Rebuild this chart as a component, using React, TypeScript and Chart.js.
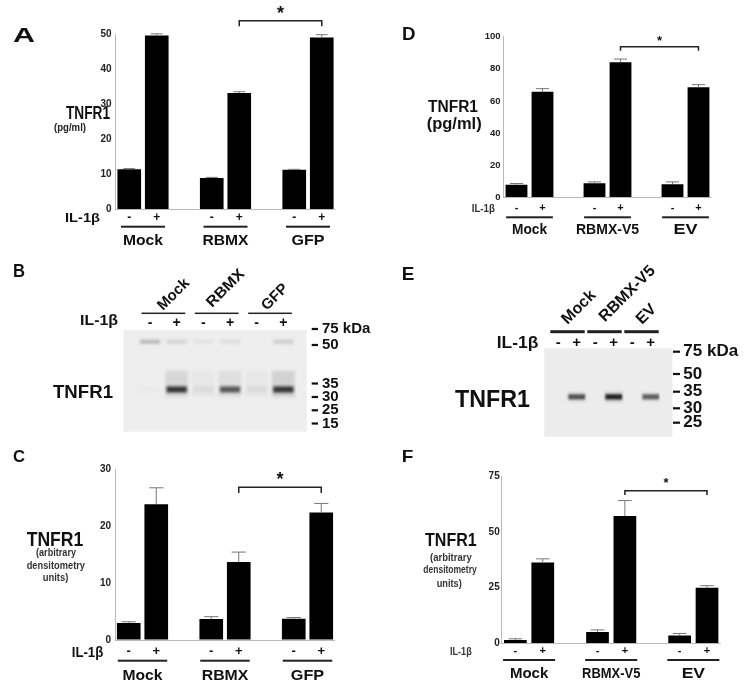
import React, { useEffect, useRef } from 'react';
import { Chart, registerables } from 'chart.js';

Chart.register(...registerables);

const FONT = '"Liberation Sans", Arial, Helvetica, sans-serif';

// ---------------- data ----------------
const rbmxGroups = ['Mock', 'RBMX', 'GFP'];
const v5Groups = ['Mock', 'RBMX-V5', 'EV'];
const il1bLevels = ['-', '+'];

// Panel A: TNFR1 ELISA (pg/ml), RBMX
const elisaRbmxValues = [11.5, 49.6, 9.0, 33.2, 11.3, 49.0];
const elisaRbmxErrors = [0.15, 0.45, 0.15, 0.35, 0.15, 0.8];
const elisaRbmxMax = 50;
const elisaRbmxStep = 10;

// Panel C: densitometry, RBMX
const densRbmxValues = [3.0, 23.85, 3.7, 13.7, 3.75, 22.4];
const densRbmxErrors = [0.2, 2.9, 0.4, 1.75, 0.2, 1.6];
const densRbmxMax = 30;
const densRbmxStep = 10;

// Panel D: TNFR1 ELISA (pg/ml), RBMX-V5
const elisaV5Values = [7.9, 65.8, 8.9, 84.1, 8.3, 68.5];
const elisaV5Errors = [0.8, 1.9, 0.8, 2.0, 1.4, 1.7];
const elisaV5Max = 100;
const elisaV5Step = 20;

// Panel F: densitometry, RBMX-V5
const densV5Values = [1.6, 36.3, 5.2, 57.1, 3.6, 25.0];
const densV5Errors = [0.5, 1.6, 0.9, 6.9, 0.9, 0.9];
const densV5Max = 75;
const densV5Step = 25;

// Western blots: band intensity per lane (0..1)
const blotLanes = ['-', '+', '-', '+', '-', '+'];
const blotRbmxMain = [0.02, 0.88, 0.06, 0.7, 0.06, 0.88];
const blotRbmxHalo = [0.0, 0.1, 0.03, 0.07, 0.03, 0.13];
const blotRbmxHigh = [0.26, 0.12, 0.06, 0.08, 0.0, 0.16];
const blotV5Main = [0.0, 0.72, 0.0, 0.97, 0.0, 0.66];
const blotV5Halo = [0.0, 0.08, 0.0, 0.15, 0.0, 0.06];
const markerLabelsRbmx = ['75 kDa', '50', '35', '30', '25', '15'];
const markerLabelsV5 = ['75 kDa', '50', '35', '30', '25'];

// ---------------- helpers ----------------
function toSlots(vals: any[], nGroups: number) {
  const out: any[] = [];
  for (let g = 0; g < nGroups; g++) {
    out.push(vals[2 * g], vals[2 * g + 1]);
    if (g < nGroups - 1) out.push(null);
  }
  return out;
}

function drawText(ctx: CanvasRenderingContext2D, t: any, ox: number, oy: number) {
  ctx.save();
  ctx.font = `${t.bold === false ? '' : 'bold '}${t.size}px ${FONT}`;
  ctx.fillStyle = t.color || '#111';
  ctx.textBaseline = t.base || 'alphabetic';
  ctx.textAlign = 'left';
  const nat = ctx.measureText(t.text).width;
  const sx = t.w ? t.w / nat : 1;
  ctx.translate(t.x - ox, t.y - oy);
  if (t.rot) ctx.rotate((t.rot * Math.PI) / 180);
  ctx.scale(sx, 1);
  const a = t.align || 'left';
  const dx = a === 'left' ? 0 : a === 'center' ? -nat / 2 : -nat;
  ctx.fillText(t.text, dx, 0);
  ctx.restore();
}

// ---------------- bar panels ----------------
function BarPanel({ spec }: { spec: any }) {
  const ref = useRef<HTMLCanvasElement>(null);
  useEffect(() => {
    const s = spec;
    const box = s.box;
    const area = s.area;
    const n = s.groups.length;
    const slotValues = toSlots(s.values, n);
    const slotErrors = toSlots(s.errors, n);
    const slotLabels = toSlots(s.groups.flatMap(() => il1bLevels), n).map((v: any) => v ?? '');
    const axisColor = '#b9b9b9';

    const barX = (chart: any, k: number) => chart.scales.x.getPixelForValue(k + Math.floor(k / 2));

    const plugin = {
      id: 'panelAnnot',
      afterDatasetsDraw(chart: any) {
        const ctx = chart.ctx;
        const y = chart.scales.y;
        const meta = chart.getDatasetMeta(0);
        ctx.save();
        ctx.strokeStyle = '#777';
        ctx.lineWidth = 1;
        meta.data.forEach((el: any, i: number) => {
          const v = slotValues[i];
          const e = slotErrors[i];
          if (v == null || e == null) return;
          const top = y.getPixelForValue(v + e);
          const half = (el.width * s.errCap) / 2;
          ctx.beginPath();
          ctx.moveTo(el.x, el.y);
          ctx.lineTo(el.x, top);
          ctx.moveTo(el.x - half, top);
          ctx.lineTo(el.x + half, top);
          ctx.stroke();
        });
        ctx.restore();
      },
      afterDraw(chart: any) {
        const ctx = chart.ctx;
        const ox = box.left;
        const oy = box.top;
        s.texts.forEach((t: any) => drawText(ctx, t, ox, oy));
        drawText(ctx, { text: 'IL-1β', ...s.il }, ox, oy);
        const slotW = barX(chart, 1) - barX(chart, 0);
        for (let k = 0; k < s.values.length; k++) {
          drawText(
            ctx,
            { text: il1bLevels[k % 2], x: barX(chart, k) + ox, y: s.pm.y, size: s.pm.size, align: 'center', base: 'middle' },
            ox,
            oy
          );
        }
        ctx.save();
        ctx.fillStyle = '#222';
        for (let g = 0; g < n; g++) {
          const x0 = barX(chart, 2 * g) - s.underline.ext * slotW;
          const x1 = barX(chart, 2 * g + 1) + s.underline.ext * slotW;
          ctx.fillRect(x0, s.underline.y - oy - s.underline.lw / 2, x1 - x0, s.underline.lw);
        }
        ctx.restore();
        for (let g = 0; g < n; g++) {
          const cx = (barX(chart, 2 * g) + barX(chart, 2 * g + 1)) / 2;
          drawText(
            ctx,
            { text: s.groups[g], x: cx + ox, y: s.groupLabel.y, size: s.groupLabel.size, w: s.groupLabel.widths[g], align: 'center' },
            ox,
            oy
          );
        }
        const b = s.bracket;
        const bx0 = barX(chart, b.from);
        const bx1 = barX(chart, b.to);
        ctx.save();
        ctx.strokeStyle = '#222';
        ctx.lineWidth = b.lw;
        ctx.beginPath();
        ctx.moveTo(bx0, b.y - oy + b.drop);
        ctx.lineTo(bx0, b.y - oy);
        ctx.lineTo(bx1, b.y - oy);
        ctx.lineTo(bx1, b.y - oy + b.drop);
        ctx.stroke();
        ctx.restore();
        drawText(ctx, { text: '*', x: (bx0 + bx1) / 2 + ox, y: b.starY, size: b.starSize, align: 'center' }, ox, oy);
      },
    };

    const chart = new Chart(ref.current as HTMLCanvasElement, {
      type: 'bar',
      data: {
        labels: slotLabels,
        datasets: [
          {
            data: slotValues,
            backgroundColor: '#000',
            borderWidth: 0,
            barPercentage: s.barPct,
            categoryPercentage: 1,
          },
        ],
      },
      options: {
        animation: false,
        responsive: false,
        maintainAspectRatio: false,
        layout: {
          padding: {
            left: 0,
            top: area.top - box.top,
            right: box.left + box.width - area.right,
            bottom: box.top + box.height - area.bottom,
          },
        },
        plugins: { legend: { display: false }, tooltip: { enabled: false } },
        scales: {
          x: { display: false, offset: true },
          y: {
            min: 0,
            max: s.max,
            ticks: {
              stepSize: s.step,
              padding: s.tickPad,
              color: '#222',
              font: { family: FONT, size: s.tickSize, weight: 'bold' },
            },
            grid: {
              drawTicks: false,
              lineWidth: 1,
              color: (c: any) => (c.tick && c.tick.value === 0 ? axisColor : 'rgba(0,0,0,0)'),
            },
            border: { display: true, color: axisColor, width: 1 },
            afterFit: (sc: any) => {
              sc.width = area.left - box.left;
            },
          },
        },
      },
      plugins: [plugin],
    } as any);
    return () => chart.destroy();
  }, [spec]);
  return (
    <canvas
      ref={ref}
      width={spec.box.width}
      height={spec.box.height}
      style={{ position: 'absolute', left: spec.box.left, top: spec.box.top, width: spec.box.width, height: spec.box.height }}
    />
  );
}

// ---------------- blot panels ----------------
function BlotPanel({ spec }: { spec: any }) {
  const ref = useRef<HTMLCanvasElement>(null);
  useEffect(() => {
    const s = spec;
    const box = s.box;
    const area = s.area;
    const plugin = {
      id: 'blotAnnot',
      beforeDatasetsDraw(chart: any) {
        const ctx = chart.ctx;
        const g = s.gel;
        ctx.fillStyle = g.color;
        ctx.fillRect(g.left - box.left, g.top - box.top, g.right - g.left, g.bottom - g.top);
        ctx.save();
        ctx.filter = `blur(${s.blur}px)`;
      },
      afterDatasetsDraw(chart: any) {
        chart.ctx.restore();
      },
      afterDraw(chart: any) {
        const ctx = chart.ctx;
        const ox = box.left;
        const oy = box.top;
        const lx = (i: number) => chart.scales.x.getPixelForValue(i);
        const laneW = lx(1) - lx(0);
        s.texts.forEach((t: any) => drawText(ctx, t, ox, oy));
        drawText(ctx, { text: 'IL-1β', ...s.il }, ox, oy);
        blotLanes.forEach((l, i) =>
          drawText(ctx, { text: l, x: lx(i) + ox, y: s.pm.y, size: s.pm.size, align: 'center', base: 'middle' }, ox, oy)
        );
        ctx.save();
        ctx.fillStyle = '#222';
        for (let g = 0; g < s.groups.length; g++) {
          const x0 = lx(2 * g) - s.underline.ext * laneW;
          const x1 = lx(2 * g + 1) + s.underline.ext * laneW;
          ctx.fillRect(x0, s.underline.y - oy - s.underline.lw / 2, x1 - x0, s.underline.lw);
        }
        ctx.restore();
        s.groups.forEach((gname: string, g: number) => {
          const r = s.rotLabels[g];
          drawText(ctx, { text: gname, x: r.x, y: r.y, size: s.rotSize, rot: s.rot, w: r.w }, ox, oy);
        });
        const m = s.markers;
        s.markerLabels.forEach((lab: string, i: number) => {
          const y = m.ys[i];
          ctx.fillStyle = '#111';
          ctx.fillRect(m.dashX0 - ox, y - oy - 1.1, m.dashX1 - m.dashX0, 2.2);
          drawText(ctx, { text: lab, x: m.textX, y, size: m.size, base: 'middle' }, ox, oy);
        });
      },
    };
    const chart = new Chart(ref.current as HTMLCanvasElement, {
      type: 'bar',
      data: {
        labels: blotLanes,
        datasets: s.bands.map((b: any) => ({
          data: b.values.map(() => [b.lo, b.hi]),
          backgroundColor: b.values.map((v: number) => `rgba(28,28,28,${v})`),
          borderWidth: 0,
          barPercentage: b.pct,
          categoryPercentage: 1,
          grouped: false,
        })),
      },
      options: {
        animation: false,
        responsive: false,
        maintainAspectRatio: false,
        layout: {
          padding: {
            left: area.left - box.left,
            top: area.top - box.top,
            right: box.left + box.width - area.right,
            bottom: box.top + box.height - area.bottom,
          },
        },
        plugins: { legend: { display: false }, tooltip: { enabled: false } },
        scales: {
          x: { display: false, offset: true },
          y: { display: false, min: 0, max: 100, reverse: true },
        },
      },
      plugins: [plugin],
    } as any);
    return () => chart.destroy();
  }, [spec]);
  return (
    <canvas
      ref={ref}
      width={spec.box.width}
      height={spec.box.height}
      style={{ position: 'absolute', left: spec.box.left, top: spec.box.top, width: spec.box.width, height: spec.box.height }}
    />
  );
}

// ---------------- layout specs ----------------
const specA = {
  box: { left: 0, top: 0, width: 375, height: 250 },
  area: { left: 115.5, top: 34, right: 335.5, bottom: 209.5 },
  values: elisaRbmxValues,
  errors: elisaRbmxErrors,
  groups: rbmxGroups,
  max: elisaRbmxMax,
  step: elisaRbmxStep,
  barPct: 0.86,
  tickSize: 10,
  tickPad: 4,
  errCap: 0.5,
  texts: [
    { text: 'A', x: 13, y: 42, size: 20, w: 22 },
    { text: 'TNFR1', x: 66, y: 118.5, size: 18, w: 44 },
    { text: '(pg/ml)', x: 54, y: 130.5, size: 10, w: 32, color: '#222' },
  ],
  il: { x: 65, y: 222, size: 13, w: 35 },
  pm: { y: 217.7, size: 12 },
  underline: { y: 226.7, ext: 0.3, lw: 2 },
  groupLabel: { y: 245, size: 14, widths: [40, 46, 33] },
  bracket: { y: 20.7, drop: 5.5, from: 3, to: 5, starY: 19, starSize: 18, lw: 1.5 },
};

const specC = {
  box: { left: 0, top: 440, width: 375, height: 249 },
  area: { left: 115, top: 469.3, right: 335, bottom: 640 },
  values: densRbmxValues,
  errors: densRbmxErrors,
  groups: rbmxGroups,
  max: densRbmxMax,
  step: densRbmxStep,
  barPct: 0.86,
  tickSize: 10,
  tickPad: 4,
  errCap: 0.6,
  texts: [
    { text: 'C', x: 13, y: 461.7, size: 17, w: 12 },
    { text: 'TNFR1', x: 26.7, y: 546, size: 21, w: 56.6 },
    { text: '(arbitrary', x: 36, y: 556, size: 10.5, w: 40, color: '#333' },
    { text: 'densitometry', x: 26.7, y: 568.5, size: 10.5, w: 58.3, color: '#333' },
    { text: 'units)', x: 42.7, y: 580.5, size: 10.5, w: 25.6, color: '#333' },
  ],
  il: { x: 71.7, y: 656.5, size: 14, w: 31.6 },
  pm: { y: 651.7, size: 13 },
  underline: { y: 660.7, ext: 0.4, lw: 2 },
  groupLabel: { y: 680, size: 15, widths: [40, 46.6, 33.3] },
  bracket: { y: 487.3, drop: 5.7, from: 3, to: 5, starY: 484.6, starSize: 18, lw: 1.5 },
};

const specD = {
  box: { left: 375, top: 0, width: 375, height: 250 },
  area: { left: 503.5, top: 36.7, right: 711.5, bottom: 197.5 },
  values: elisaV5Values,
  errors: elisaV5Errors,
  groups: v5Groups,
  max: elisaV5Max,
  step: elisaV5Step,
  barPct: 0.84,
  tickSize: 9.5,
  tickPad: 3,
  errCap: 0.6,
  texts: [
    { text: 'D', x: 402, y: 40, size: 18, w: 13.5 },
    { text: 'TNFR1', x: 428, y: 111.7, size: 16, w: 50 },
    { text: '(pg/ml)', x: 426.7, y: 129, size: 16, w: 55 },
  ],
  il: { x: 471.7, y: 211.5, size: 10, w: 23.3, color: '#333' },
  pm: { y: 208, size: 11 },
  underline: { y: 217.3, ext: 0.4, lw: 2 },
  groupLabel: { y: 234, size: 14, widths: [35, 63, 24] },
  bracket: { y: 46.7, drop: 4, from: 3, to: 5, starY: 45.3, starSize: 13, lw: 1.5 },
};

const specF = {
  box: { left: 375, top: 440, width: 375, height: 249 },
  area: { left: 501.7, top: 476, right: 720.7, bottom: 643.5 },
  values: densV5Values,
  errors: densV5Errors,
  groups: v5Groups,
  max: densV5Max,
  step: densV5Step,
  barPct: 0.83,
  tickSize: 10,
  tickPad: 2,
  errCap: 0.6,
  texts: [
    { text: 'F', x: 401.7, y: 461.7, size: 17, w: 11.6 },
    { text: 'TNFR1', x: 425, y: 546, size: 18, w: 51.7 },
    { text: '(arbitrary', x: 430, y: 560.7, size: 10.5, w: 41.7, color: '#333' },
    { text: 'densitometry', x: 423.3, y: 573.3, size: 10.5, w: 53.4, color: '#333' },
    { text: 'units)', x: 436.7, y: 586.7, size: 10.5, w: 25, color: '#333' },
  ],
  il: { x: 450, y: 654.5, size: 10, w: 21.7, color: '#333' },
  pm: { y: 650.7, size: 11 },
  underline: { y: 660, ext: 0.45, lw: 2 },
  groupLabel: { y: 678.3, size: 15, widths: [38.4, 58.3, 23.3] },
  bracket: { y: 490.7, drop: 4.3, from: 3, to: 5, starY: 486.6, starSize: 13, lw: 1.5 },
};

const specB = {
  box: { left: 0, top: 250, width: 375, height: 190 },
  area: { left: 136.7, top: 330, right: 296.7, bottom: 431.7 },
  gel: { left: 123.3, top: 330, right: 306.7, bottom: 431.7, color: '#eeeeee' },
  blur: 1.6,
  groups: rbmxGroups,
  bands: [
    { lo: 40, hi: 66, values: blotRbmxHalo, pct: 0.85 },
    { lo: 55.5, hi: 61.5, values: blotRbmxMain, pct: 0.76 },
    { lo: 9.5, hi: 13.5, values: blotRbmxHigh, pct: 0.75 },
  ],
  texts: [
    { text: 'B', x: 13, y: 277, size: 18, w: 12 },
    { text: 'TNFR1', x: 53, y: 398.3, size: 19, w: 60 },
  ],
  il: { x: 80, y: 325, size: 15, w: 38 },
  pm: { y: 323.3, size: 14 },
  underline: { y: 313.3, ext: 0.32, lw: 1.5 },
  rot: -45,
  rotSize: 15,
  rotLabels: [
    { x: 163, y: 311 },
    { x: 212, y: 308, w: 47 },
    { x: 267, y: 311 },
  ],
  markerLabels: markerLabelsRbmx,
  markers: { dashX0: 311.7, dashX1: 318, textX: 322, size: 15, ys: [329, 345, 383.5, 397, 410.3, 423.5] },
};

const specE = {
  box: { left: 375, top: 250, width: 375, height: 190 },
  area: { left: 549, top: 348.3, right: 660, bottom: 436.7 },
  gel: { left: 544.3, top: 348.3, right: 672.3, bottom: 436.7, color: '#ececec' },
  blur: 1.1,
  groups: v5Groups,
  bands: [
    { lo: 49, hi: 61, values: blotV5Halo, pct: 0.95 },
    { lo: 52, hi: 57.8, values: blotV5Main, pct: 0.9 },
  ],
  texts: [
    { text: 'E', x: 401.7, y: 280, size: 18, w: 12.6 },
    { text: 'TNFR1', x: 455, y: 406.7, size: 23, w: 75 },
  ],
  il: { x: 496.7, y: 348.3, size: 16, w: 41.6 },
  pm: { y: 342.7, size: 15 },
  underline: { y: 331.7, ext: 0.43, lw: 3 },
  rot: -45,
  rotSize: 16,
  rotLabels: [
    { x: 567.5, y: 325 },
    { x: 605, y: 322.5 },
    { x: 642, y: 325 },
  ],
  markerLabels: markerLabelsV5,
  markers: { dashX0: 673, dashX1: 680, textX: 683.3, size: 17, ys: [351.7, 374, 391.7, 408.3, 422.7] },
};

export default function App() {
  return (
    <div style={{ position: 'absolute', left: 0, top: 0, width: 750, height: 689, background: '#fff', overflow: 'hidden' }}>
      <BarPanel spec={specA} />
      <BarPanel spec={specD} />
      <BlotPanel spec={specB} />
      <BlotPanel spec={specE} />
      <BarPanel spec={specC} />
      <BarPanel spec={specF} />
    </div>
  );
}
